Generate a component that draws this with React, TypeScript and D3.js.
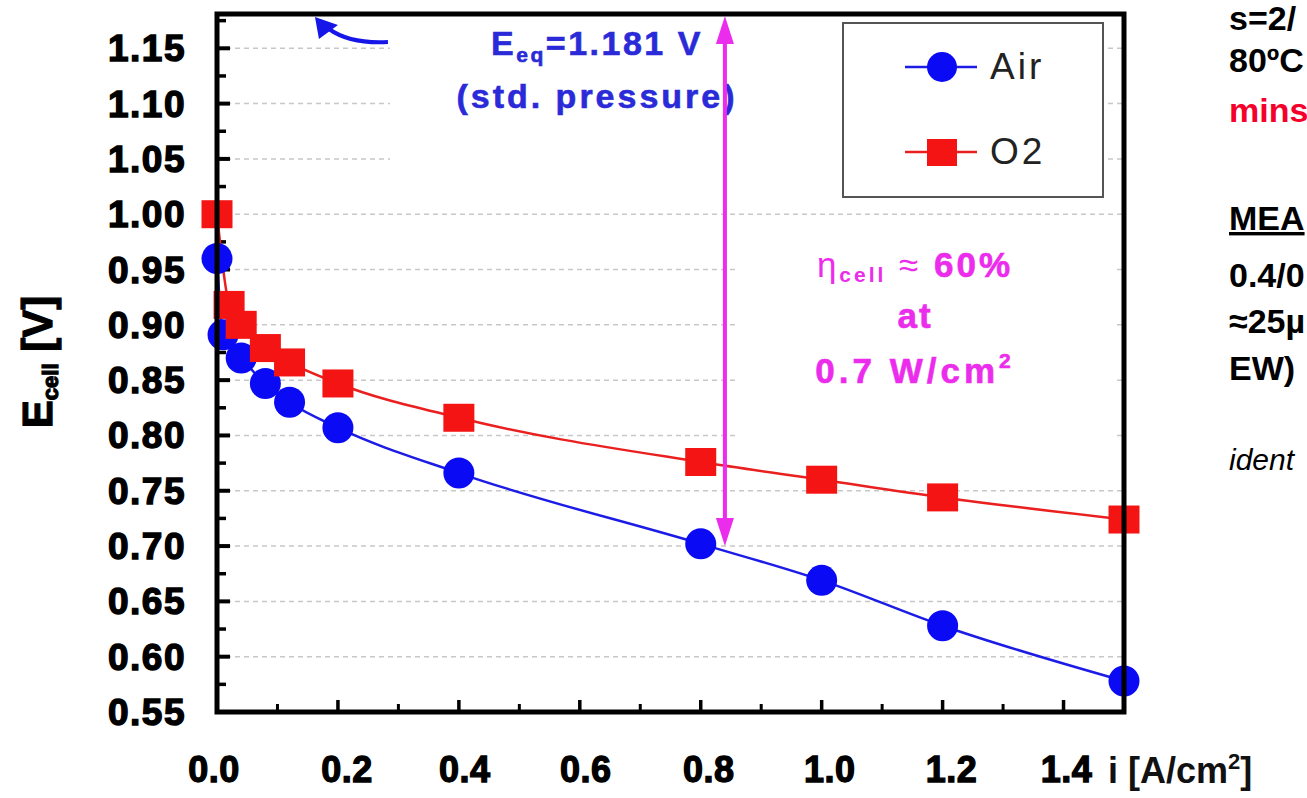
import React from 'react';
import * as d3 from 'd3';

// ---------- data ----------
const airCurrent = [0, 0.01, 0.04, 0.08, 0.12, 0.2, 0.4, 0.8, 1.0, 1.2, 1.5];
const airVoltage = [0.96, 0.891, 0.87, 0.847, 0.83, 0.807, 0.766, 0.702, 0.669, 0.628, 0.578];
const o2Current = [0, 0.02, 0.04, 0.08, 0.12, 0.2, 0.4, 0.8, 1.0, 1.2, 1.5];
const o2Voltage = [1.0, 0.918, 0.9, 0.879, 0.866, 0.847, 0.816, 0.776, 0.76, 0.744, 0.724];
const seriesNames = ['Air', 'O2'];

const xTickValues = [0, 0.2, 0.4, 0.6, 0.8, 1.0, 1.2, 1.4];
const xTickLabels = ['0.0', '0.2', '0.4', '0.6', '0.8', '1.0', '1.2', '1.4'];
const xMinorTicks = [0.1, 0.3, 0.5, 0.7, 0.9, 1.1, 1.3];
const yTickValues = [0.55, 0.6, 0.65, 0.7, 0.75, 0.8, 0.85, 0.9, 0.95, 1.0, 1.05, 1.1, 1.15];
const yTickLabels = ['0.55', '0.60', '0.65', '0.70', '0.75', '0.80', '0.85', '0.90', '0.95', '1.00', '1.05', '1.10', '1.15'];
const yMinorTicks = [0.575, 0.625, 0.675, 0.725, 0.775, 0.825, 0.875, 0.925, 0.975, 1.025, 1.075, 1.125, 1.175];

const xDomain = [0, 1.5];
const eqVoltage = 1.181;
const eqArrowTip = [0.162, 1.181];
const effArrowCurrent = 0.84;
const effArrowBottom = 0.70;
const sideNoteLines = ['s=2/', '80ºC', 'mins', 'MEA', '0.4/0', '≈25µ', 'EW)', 'ident'];

// ---------- layout ----------
const W = 1307;
const H = 798;
const FONT = '"Liberation Sans", Arial, Helvetica, sans-serif';
const BLUE = '#0a0af5';
const RED = '#f51414';
const MAGENTA = '#ec2cec';

export default function App() {
  const x = d3.scaleLinear().domain(xDomain).range([217, 1124]);
  const y = d3.scaleLinear().domain([0.55, eqVoltage]).range([712, 14]);

  const airPts = airCurrent.map((c, i) => [x(c), y(airVoltage[i])] as [number, number]);
  const o2Pts = o2Current.map((c, i) => [x(c), y(o2Voltage[i])] as [number, number]);
  const line = d3.line().curve(d3.curveMonotoneX);

  const x0 = x(xDomain[0]);
  const x1 = x(xDomain[1]);
  const yb = y(0.55);
  const yt = y(eqVoltage);

  // equilibrium arrow (blue, top-left)
  const tx = x(eqArrowTip[0]);
  const ty = y(eqArrowTip[1]) + 3;

  // efficiency arrow (magenta)
  const ax = x(effArrowCurrent);
  const aTop = yt + 2;
  const aBot = y(effArrowBottom);

  const sideY = [30, 72, 122, 230, 287, 333, 380, 470];
  const xLabelShift = [-3, 9, 6, 6, 8, 8, 9, 3];

  return (
    <div style={{ position: 'absolute', left: 0, top: 0, width: W, height: H, overflow: 'hidden' }}>
      <svg width={W} height={H} style={{ display: 'block', background: '#fff' }} fontFamily={FONT}>
        {/* gridlines */}
        {yTickValues.filter(v => v > 0.55).map(v => (
          <line key={'g' + v} x1={x0} x2={x1} y1={y(v)} y2={y(v)} stroke="#c8c8c8" strokeWidth={1.5} strokeDasharray="5 4" />
        ))}
        {/* white backgrounds behind annotations */}
        <rect x={390} y={16} width={453} height={170} fill="#fff" />
        <rect x={735} y={228} width={380} height={227} fill="#fff" />

        {/* ticks */}
        {yTickValues.map(v => (
          <line key={'yt' + v} x1={x0} x2={x0 + 13} y1={y(v)} y2={y(v)} stroke="#000" strokeWidth={4} />
        ))}
        {yMinorTicks.map(v => (
          <line key={'ym' + v} x1={x0} x2={x0 + 9} y1={y(v)} y2={y(v)} stroke="#000" strokeWidth={3.5} />
        ))}
        {xTickValues.map(v => (
          <line key={'xt' + v} x1={x(v)} x2={x(v)} y1={yb} y2={yb - 12} stroke="#000" strokeWidth={3.5} />
        ))}
        {xMinorTicks.map(v => (
          <line key={'xm' + v} x1={x(v)} x2={x(v)} y1={yb} y2={yb - 8} stroke="#000" strokeWidth={3} />
        ))}

        {/* tick labels */}
        {yTickValues.map((v, i) => (
          <text key={'yl' + v} x={186} y={y(v) + 13} textAnchor="end" fontSize={37} fontWeight="bold" letterSpacing={1.5} fill="#000" stroke="#000" strokeWidth={1.4}>
            {yTickLabels[i]}
          </text>
        ))}
        {xTickValues.map((v, i) => (
          <text key={'xl' + v} x={x(v) + xLabelShift[i]} y={782} textAnchor="middle" fontSize={36} fontWeight="bold" letterSpacing={0.5} fill="#000" stroke="#000" strokeWidth={1.3}>
            {xTickLabels[i]}
          </text>
        ))}

        {/* axis titles */}
        <text transform="translate(52,362) rotate(-90)" textAnchor="middle" fontSize={42} fontWeight="bold" fill="#000" stroke="#000" strokeWidth={1.2}>
          E<tspan fontSize={22} dy={6}>cell</tspan><tspan dy={-6}> [V]</tspan>
        </text>
        <text x={1108} y={783} fontSize={36} fontWeight="bold" fill="#111">
          i [A/cm<tspan fontSize={22} dy={-14}>2</tspan><tspan dy={14}>]</tspan>
        </text>

        {/* data lines */}
        <path d={line(airPts) || ''} fill="none" stroke="#1c1ce6" strokeWidth={2.5} />
        <path d={line(o2Pts) || ''} fill="none" stroke="#ea2020" strokeWidth={2.5} />
        {airPts.map((p, i) => (
          <circle key={'a' + i} cx={p[0]} cy={p[1]} r={15.5} fill={BLUE} />
        ))}
        {o2Pts.map((p, i) => (
          <rect key={'o' + i} x={p[0] - 15.5} y={p[1] - 14} width={31} height={28} fill={RED} />
        ))}

        {/* frame */}
        <rect x={x0} y={yt} width={x1 - x0} height={yb - yt} fill="none" stroke="#000" strokeWidth={5} />

        {/* legend */}
        <rect x={843} y={23} width={260} height={174} fill="#fff" stroke="#555" strokeWidth={2} />
        <line x1={905} x2={977} y1={67} y2={67} stroke="#1c1ce6" strokeWidth={2.5} />
        <circle cx={942} cy={67} r={15} fill={BLUE} />
        <text x={990} y={79} fontSize={37} letterSpacing={3} fill="#222">{seriesNames[0]}</text>
        <line x1={905} x2={977} y1={152} y2={152} stroke="#ea2020" strokeWidth={2.5} />
        <rect x={927} y={139} width={30} height={27} fill={RED} />
        <text x={990} y={164} fontSize={37} letterSpacing={3} fill="#222">{seriesNames[1]}</text>

        {/* E_eq annotation */}
        <path d={`M${tx + 73},${ty + 25} Q${tx + 35},${ty + 27} ${tx + 14},${ty + 12}`} fill="none" stroke="#1616e8" strokeWidth={4} />
        <polygon points={`${tx},${ty} ${tx + 4},${ty + 22} ${tx + 23},${ty + 8}`} fill="#1616e8" />
        <text x={597} y={55} textAnchor="middle" fontSize={34} fontWeight="bold" letterSpacing={2.5} fill="#2a2ad8" stroke="#2a2ad8" strokeWidth={0.6}>
          E<tspan fontSize={21} dy={7}>eq</tspan><tspan dy={-7}>=1.181 V</tspan>
        </text>
        <text x={597} y={108} textAnchor="middle" fontSize={34} fontWeight="bold" letterSpacing={3} fill="#2a2ad8" stroke="#2a2ad8" strokeWidth={0.6}>
          (std. pressure)
        </text>

        {/* efficiency arrow */}
        <line x1={ax} x2={ax} y1={aTop + 24} y2={aBot - 24} stroke={MAGENTA} strokeWidth={4} />
        <polygon points={`${ax},${aTop} ${ax - 9},${aTop + 28} ${ax + 9},${aTop + 28}`} fill={MAGENTA} />
        <polygon points={`${ax},${aBot} ${ax - 9},${aBot - 28} ${ax + 9},${aBot - 28}`} fill={MAGENTA} />

        <text x={915} y={277} textAnchor="middle" fontSize={35} letterSpacing={3} fill={MAGENTA}>
          η<tspan fontSize={21} dy={5} fontWeight="bold">cell</tspan><tspan dy={-5}> ≈ </tspan><tspan fontWeight="bold" stroke={MAGENTA} strokeWidth={0.6}>60%</tspan>
        </text>
        <text x={915} y={328} textAnchor="middle" fontSize={35} fontWeight="bold" letterSpacing={2} fill={MAGENTA} stroke={MAGENTA} strokeWidth={0.6}>at</text>
        <text x={915} y={383} textAnchor="middle" fontSize={35} fontWeight="bold" letterSpacing={4} fill={MAGENTA} stroke={MAGENTA} strokeWidth={0.6}>
          0.7 W/cm<tspan fontSize={21} dy={-15}>2</tspan>
        </text>

        {/* side notes (cut off by the page edge in the source) */}
        {sideNoteLines.map((t, i) => (
          <text
            key={'s' + i}
            x={1229}
            y={sideY[i]}
            fontSize={i === 7 ? 30 : 34}
            fontWeight={i === 7 ? 'normal' : 'bold'}
            fontStyle={i === 7 ? 'italic' : 'normal'}
            textDecoration={i === 3 ? 'underline' : 'none'}
            fill={i === 2 ? '#f5002a' : '#000'}
          >
            {t}
          </text>
        ))}
      </svg>
    </div>
  );
}
